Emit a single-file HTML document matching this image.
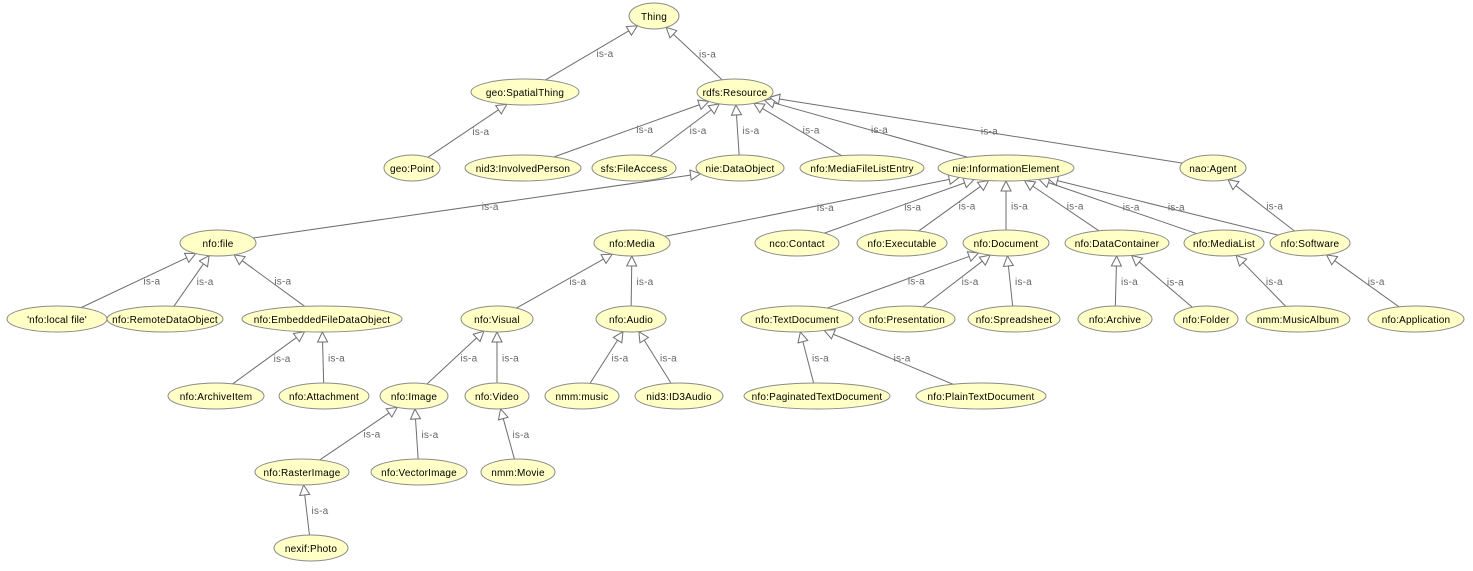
<!DOCTYPE html>
<html><head><meta charset="utf-8"><style>
html,body{margin:0;padding:0;background:#fff;width:1473px;height:571px;overflow:hidden}
svg text{font-family:"Liberation Sans",sans-serif;font-size:10px;letter-spacing:0.2px}
</style></head><body>
<svg id="s" width="1473" height="571" xmlns="http://www.w3.org/2000/svg"></svg>
<script>
var N={
Thing:[654,16,25],"geo:SpatialThing":[525,92,54],"rdfs:Resource":[735,92,38],
"geo:Point":[412,168,28],"nid3:InvolvedPerson":[523,168,58],"sfs:FileAccess":[634,168,42],
"nie:DataObject":[740,168,44],"nfo:MediaFileListEntry":[862,168,62],"nie:InformationElement":[1006,168,68],
"nao:Agent":[1213,168,33],"nfo:file":[218,243,38],"nfo:Media":[632,243,38],"nco:Contact":[797,243,42],
"nfo:Executable":[902,243,45],"nfo:Document":[1006,243,43],"nfo:DataContainer":[1117,243,52],
"nfo:MediaList":[1224,243,40],"nfo:Software":[1310,243,40],"'nfo:local file'":[57,319,50],
"nfo:RemoteDataObject":[165,319,58],"nfo:EmbeddedFileDataObject":[322,319,80],"nfo:Visual":[497,319,36],
"nfo:Audio":[631,319,35],"nfo:TextDocument":[797,319,56],"nfo:Presentation":[907,319,48],
"nfo:Spreadsheet":[1014,319,46],"nfo:Archive":[1115,319,37],"nfo:Folder":[1206,319,32],
"nmm:MusicAlbum":[1298,319,52],"nfo:Application":[1416,319,48],"nfo:ArchiveItem":[216,396,48],
"nfo:Attachment":[324,396,45],"nfo:Image":[414,396,34],"nfo:Video":[497,396,32],"nmm:music":[582,396,37],
"nid3:ID3Audio":[679,396,44],"nfo:PaginatedTextDocument":[817,396,73],"nfo:PlainTextDocument":[981,396,65],
"nfo:RasterImage":[302,472,47],"nfo:VectorImage":[419,472,48],"nmm:Movie":[518,472,37],"nexif:Photo":[311,548,37]};
var E=[["geo:SpatialThing","Thing"],["rdfs:Resource","Thing"],["geo:Point","geo:SpatialThing"],
["nid3:InvolvedPerson","rdfs:Resource"],["sfs:FileAccess","rdfs:Resource"],["nie:DataObject","rdfs:Resource"],
["nfo:MediaFileListEntry","rdfs:Resource"],["nie:InformationElement","rdfs:Resource"],["nao:Agent","rdfs:Resource"],
["nfo:file","nie:DataObject"],["nfo:Media","nie:InformationElement"],["nco:Contact","nie:InformationElement"],
["nfo:Executable","nie:InformationElement"],["nfo:Document","nie:InformationElement"],["nfo:DataContainer","nie:InformationElement"],
["nfo:MediaList","nie:InformationElement"],["nfo:Software","nie:InformationElement"],["nfo:Software","nao:Agent"],
["'nfo:local file'","nfo:file"],["nfo:RemoteDataObject","nfo:file"],["nfo:EmbeddedFileDataObject","nfo:file"],
["nfo:Visual","nfo:Media"],["nfo:Audio","nfo:Media"],["nfo:TextDocument","nfo:Document"],["nfo:Presentation","nfo:Document"],
["nfo:Spreadsheet","nfo:Document"],["nfo:Archive","nfo:DataContainer"],["nfo:Folder","nfo:DataContainer"],
["nmm:MusicAlbum","nfo:MediaList"],["nfo:Application","nfo:Software"],["nfo:ArchiveItem","nfo:EmbeddedFileDataObject"],
["nfo:Attachment","nfo:EmbeddedFileDataObject"],["nfo:Image","nfo:Visual"],["nfo:Video","nfo:Visual"],
["nmm:music","nfo:Audio"],["nid3:ID3Audio","nfo:Audio"],["nfo:PaginatedTextDocument","nfo:TextDocument"],
["nfo:PlainTextDocument","nfo:TextDocument"],["nfo:RasterImage","nfo:Image"],["nfo:VectorImage","nfo:Image"],
["nmm:Movie","nfo:Video"],["nexif:Photo","nfo:RasterImage"]];
var RY=13,h='';
function clip(n,dx,dy){var a=n[2],t=1/Math.sqrt(dx*dx/(a*a)+dy*dy/(RY*RY));return [n[0]+dx*t,n[1]+dy*t];}
E.forEach(function(e){var c=N[e[0]],p=N[e[1]];
var s=clip(c,p[0]-c[0],p[1]-c[1]),t=clip(p,c[0]-p[0],c[1]-p[1]);
var dx=s[0]-t[0],dy=s[1]-t[1],L=Math.hypot(dx,dy),ux=dx/L,uy=dy/L;
var bx=t[0]+ux*10,by=t[1]+uy*10;
h+='<line x1="'+s[0]+'" y1="'+s[1]+'" x2="'+bx+'" y2="'+by+'" stroke="#6e6e6e" stroke-width="1"/>';
h+='<polygon points="'+t[0]+','+t[1]+' '+(bx-uy*5)+','+(by+ux*5)+' '+(bx+uy*5)+','+(by-ux*5)+'" fill="#fff" stroke="#6e6e6e"/>';
var mx=(s[0]+t[0])/2,my=(s[1]+t[1])/2;
h+='<text x="'+(mx+5)+'" y="'+(my+4)+'" fill="#666">is-a</text>';});
for(var k in N){var n=N[k];
h+='<ellipse cx="'+n[0]+'" cy="'+n[1]+'" rx="'+n[2]+'" ry="'+RY+'" fill="#ffffc6" stroke="#8a8a8a"/>';
h+='<text x="'+n[0]+'" y="'+(n[1]+4)+'" text-anchor="middle" fill="#000">'+k.replace(/'/g,"&#39;")+'</text>';}
document.getElementById('s').innerHTML=h;
</script>
</body></html>
